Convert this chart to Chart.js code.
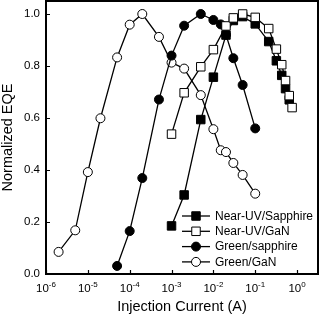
<!DOCTYPE html>
<html>
<head>
<meta charset="utf-8">
<script src="https://cdn.jsdelivr.net/npm/chart.js@4.4.1/dist/chart.umd.min.js"></script>
<style>
  html, body { margin: 0; padding: 0; background: #fff; }
  #box { width: 320px; height: 315px; }
</style>
</head>
<body>
<div id="box"><canvas id="grafico"></canvas></div>
<script>
// dados (corrente em A, EQE normalizada)
const nuvSapphireX = [1e-3, 2e-3, 5e-3, 1e-2, 2e-2, 3e-2, 5e-2, 1e-1, 0.21, 0.32, 0.43, 0.53, 0.65];
const nuvSapphireY = [0.185, 0.304, 0.594, 0.757, 0.919, 0.975, 0.99, 0.962, 0.894, 0.82, 0.764, 0.713, 0.67];

const nuvGanX = [1e-3, 2e-3, 5e-3, 1e-2, 2e-2, 3e-2, 5e-2, 1e-1, 0.21, 0.32, 0.43, 0.53, 0.65, 0.76];
const nuvGanY = [0.538, 0.697, 0.797, 0.863, 0.954, 0.985, 1.0, 0.987, 0.944, 0.865, 0.805, 0.744, 0.686, 0.64];

const greenSapphireX = [5e-5, 1e-4, 2e-4, 5e-4, 1e-3, 2e-3, 5e-3, 1e-2, 1.5e-2, 2e-2, 3e-2, 5e-2, 1e-1];
const greenSapphireY = [0.031, 0.165, 0.369, 0.671, 0.84, 0.955, 1.0, 0.977, 0.96, 0.92, 0.83, 0.727, 0.56];

const greenGanX = [2e-6, 5e-6, 1e-5, 2e-5, 5e-5, 1e-4, 2e-4, 5e-4, 1e-3, 2e-3, 5e-3, 1e-2, 1.5e-2, 2e-2, 3e-2, 5e-2, 1e-1];
const greenGanY = [0.085, 0.168, 0.392, 0.599, 0.833, 0.959, 1.0, 0.912, 0.813, 0.79, 0.688, 0.557, 0.476, 0.469, 0.427, 0.381, 0.309];

const seriesNames = ['Near-UV/Sapphire', 'Near-UV/GaN', 'Green/sapphire', 'Green/GaN'];
const xTicks = [1e-6, 1e-5, 1e-4, 1e-3, 1e-2, 1e-1, 1e0];
const yTicks = [0, 0.2, 0.4, 0.6, 0.8, 1.0];

const FONTE = '"Liberation Sans", Arial, sans-serif';

function pares(xs, ys) {
    return xs.map((x, i) => ({ x: x, y: ys[i] }));
}

function serie(nome, xs, ys, forma, cheio, ordem) {
    return {
        label: nome,
        data: pares(xs, ys),
        borderColor: '#000',
        borderWidth: 1.3,
        pointStyle: forma,
        pointRadius: forma === 'rect' ? 6 : 4.5,
        pointBorderWidth: 1,
        pointBorderColor: '#000',
        pointBackgroundColor: cheio ? '#000' : '#fff',
        tension: 0,
        order: ordem
    };
}

const datasets = [
    serie(seriesNames[0], nuvSapphireX, nuvSapphireY, 'rect', true, 1),
    serie(seriesNames[1], nuvGanX, nuvGanY, 'rect', false, 0),
    serie(seriesNames[2], greenSapphireX, greenSapphireY, 'circle', true, 1),
    serie(seriesNames[3], greenGanX, greenGanY, 'circle', false, 1)
];

// marcador igual ao das séries (para a legenda)
function marcador(ctx, ds, x, y) {
    ctx.save();
    ctx.fillStyle = ds.pointBackgroundColor;
    ctx.strokeStyle = '#000';
    ctx.lineWidth = 1;
    ctx.beginPath();
    if (ds.pointStyle === 'rect') {
        const s = ds.pointRadius * Math.SQRT1_2;
        ctx.rect(x - s, y - s, 2 * s, 2 * s);
    } else {
        ctx.arc(x, y, ds.pointRadius, 0, Math.PI * 2);
    }
    ctx.fill();
    ctx.stroke();
    ctx.restore();
}

const molduraPlugin = {
    id: 'moldura',
    afterDraw(chart) {
        const ctx = chart.ctx;
        const a = chart.chartArea;
        const sx = chart.scales.x;
        const sy = chart.scales.y;
        ctx.save();
        ctx.strokeStyle = '#000';

        // borda superior e direita
        ctx.lineWidth = 2;
        ctx.beginPath();
        ctx.moveTo(a.left - 1, a.top);
        ctx.lineTo(a.right, a.top);
        ctx.lineTo(a.right, a.bottom + 1);
        ctx.stroke();

        // ticks para dentro
        ctx.lineWidth = 1.2;
        ctx.beginPath();
        xTicks.forEach(v => {
            const px = Math.round(sx.getPixelForValue(v)) + 0.5;
            ctx.moveTo(px, a.bottom);
            ctx.lineTo(px, a.bottom - 4);
        });
        yTicks.forEach(v => {
            const py = Math.round(sy.getPixelForValue(v)) + 0.5;
            ctx.moveTo(a.left, py);
            ctx.lineTo(a.left + 4, py);
        });
        ctx.stroke();

        // rótulos do eixo x: 10 com expoente
        ctx.fillStyle = '#000';
        ctx.textBaseline = 'alphabetic';
        ctx.textAlign = 'left';
        xTicks.forEach(v => {
            const expo = String(Math.round(Math.log10(v)));
            ctx.font = '11.5px ' + FONTE;
            const wBase = ctx.measureText('10').width;
            ctx.font = '8px ' + FONTE;
            const wExp = ctx.measureText(expo).width;
            const x0 = sx.getPixelForValue(v) - (wBase + wExp) / 2;
            ctx.font = '11.5px ' + FONTE;
            ctx.fillText('10', x0, a.bottom + 17.5);
            ctx.font = '8px ' + FONTE;
            ctx.fillText(expo, x0 + wBase, a.bottom + 12.7);
        });

        // legenda dentro da área do gráfico
        const lx = a.left + 136;
        let ly = a.bottom - 58;
        ctx.font = '12px ' + FONTE;
        ctx.textBaseline = 'middle';
        datasets.forEach(ds => {
            ctx.lineWidth = 1.3;
            ctx.beginPath();
            ctx.moveTo(lx, ly);
            ctx.lineTo(lx + 28, ly);
            ctx.stroke();
            marcador(ctx, ds, lx + 14, ly);
            ctx.fillText(ds.label, lx + 33, ly + 0.5);
            ly += 15.3;
        });
        ctx.restore();
    }
};

const ctx = document.getElementById('grafico').getContext('2d');
const grafico = new Chart(ctx, {
    type: 'line',
    data: { datasets: datasets },
    options: {
        responsive: true,
        maintainAspectRatio: false,
        animation: false,
        layout: { autoPadding: false, padding: { top: 1, right: 2, left: 0, bottom: 0 } },
        plugins: { legend: { display: false }, tooltip: { enabled: false } },
        scales: {
            x: {
                type: 'logarithmic',
                min: 1e-6,
                max: Math.pow(10, 0.5),
                grid: { display: false, drawTicks: false },
                border: { display: true, color: '#000', width: 2 },
                ticks: { display: false },
                afterBuildTicks: s => { s.ticks = xTicks.map(v => ({ value: v })); },
                afterFit: s => {
                    s.height = 41;
                    s.paddingLeft = 0;
                    s.paddingRight = 0;
                },
                title: {
                    display: true,
                    text: 'Injection Current (A)',
                    color: '#000',
                    font: { family: FONTE, size: 14.5, lineHeight: 1.05 },
                    padding: { top: 0, bottom: 0 }
                }
            },
            y: {
                min: 0,
                max: 1.05,
                grid: { display: false, drawTicks: false },
                border: { display: true, color: '#000', width: 2 },
                afterBuildTicks: s => { s.ticks = yTicks.map(v => ({ value: v })); },
                afterFit: s => {
                    s.width = 46;
                    s.paddingTop = 0;
                    s.paddingBottom = 0;
                },
                ticks: {
                    color: '#000',
                    padding: 6,
                    font: { family: FONTE, size: 11.5 },
                    callback: v => Number(v).toFixed(1)
                },
                title: {
                    display: true,
                    text: 'Normalized EQE',
                    color: '#000',
                    font: { family: FONTE, size: 14.5, lineHeight: 1.05 },
                    padding: { top: 0, bottom: 0 }
                }
            }
        }
    },
    plugins: [molduraPlugin]
});
</script>
</body>
</html>
